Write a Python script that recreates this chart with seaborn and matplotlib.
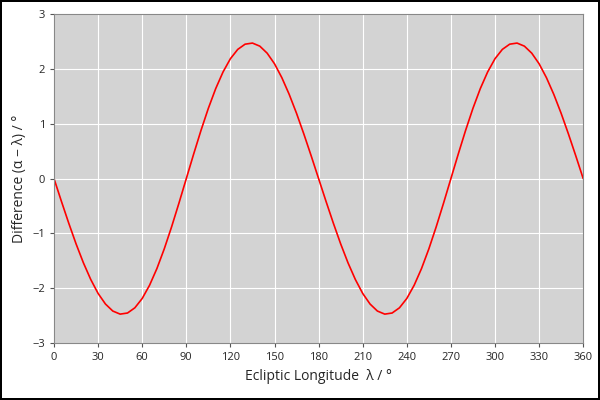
import numpy as np
import pandas as pd
import matplotlib
matplotlib.use("Agg")
import matplotlib.pyplot as plt
import seaborn as sns

# Ecliptic longitude (deg) and difference alpha - lambda (deg)
longitude = list(range(0, 365, 5))
difference = [
    0.0, -0.411, -0.810, -1.189, -1.535, -1.839, -2.093, -2.286, -2.414, -2.470,
    -2.450, -2.355, -2.185, -1.944, -1.640, -1.281, -0.879, -0.447, 0.0,
    0.447, 0.879, 1.281, 1.640, 1.944, 2.185, 2.355, 2.450, 2.470, 2.414,
    2.286, 2.093, 1.839, 1.535, 1.189, 0.810, 0.411, 0.0,
    -0.411, -0.810, -1.189, -1.535, -1.839, -2.093, -2.286, -2.414, -2.470,
    -2.450, -2.355, -2.185, -1.944, -1.640, -1.281, -0.879, -0.447, 0.0,
    0.447, 0.879, 1.281, 1.640, 1.944, 2.185, 2.355, 2.450, 2.470, 2.414,
    2.286, 2.093, 1.839, 1.535, 1.189, 0.810, 0.411, 0.0,
]
x_ticks = list(range(0, 361, 30))
y_ticks = [-3, -2, -1, 0, 1, 2, 3]

df = pd.DataFrame({"lon": longitude, "diff": difference})

sns.set_style("darkgrid", {"axes.facecolor": "#d3d3d3", "grid.color": "white"})
plt.rcParams['font.family'] = ['Open Sans', 'DejaVu Sans']

fig = plt.figure(figsize=(6, 4), dpi=100)
fig.patch.set_edgecolor("black")
fig.patch.set_linewidth(1.5)
ax = fig.add_axes([0.09, 0.142, 0.882, 0.823])

sns.lineplot(data=df, x="lon", y="diff", color="red", linewidth=1.2, ax=ax)

ax.set_xlim(0, 360)
ax.set_ylim(-3, 3)
ax.set_xticks(x_ticks)
ax.set_yticks(y_ticks)
ax.set_yticklabels([str(v).replace("-", "−") for v in y_ticks])
ax.tick_params(labelsize=8, length=3, color="#555555", bottom=True, left=True)
for s in ax.spines.values():
    s.set_visible(True)
    s.set_color("#888888")
    s.set_linewidth(0.8)
ax.grid(True, color="white", linewidth=0.8)
ax.set_xlabel("Ecliptic Longitude  λ / °", fontsize=10)
ax.set_ylabel("Difference (α − λ) / °", fontsize=10)

fig.savefig("out.png", dpi=100, edgecolor=fig.get_edgecolor())
